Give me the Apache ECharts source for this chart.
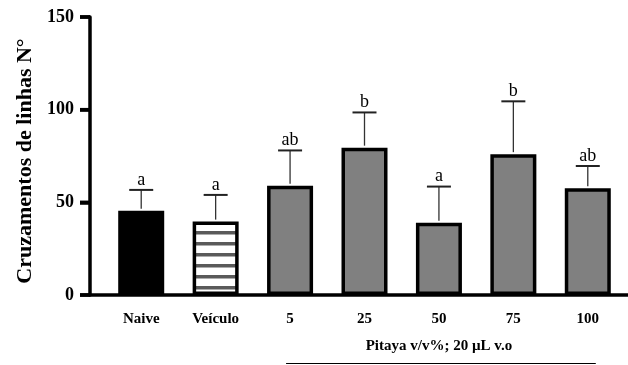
<!DOCTYPE html>
<html>
<head>
<meta charset="utf-8">
<script src="https://cdn.jsdelivr.net/npm/echarts@6/dist/echarts.min.js"></script>
<style>html,body{margin:0;padding:0;background:#fff}#c{width:628px;height:365px}</style>
</head>
<body>
<div id="c"></div>
<script>
var categories = ['Naive', 'Veículo', '5', '25', '50', '75', '100'];
var means = [45.5, 39.6, 59, 79.5, 39, 76, 57.6];
var sds = [11.2, 14.4, 19, 19, 19.5, 28.5, 12];
var letters = ['a', 'a', 'ab', 'b', 'a', 'b', 'ab'];
var yTicks = [0, 50, 100, 150];
var groupLabel = 'Pitaya v/v%; 20 µL v.o';
var yTitle = 'Cruzamentos de linhas N°';

var SERIF = '"Liberation Serif", "Times New Roman", serif';

// striped pattern for Veículo
var pat = document.createElement('canvas');
pat.width = 11; pat.height = 11;
var pctx = pat.getContext('2d');
pctx.fillStyle = '#ffffff'; pctx.fillRect(0, 0, 11, 11);
pctx.fillStyle = '#5a5a5a'; pctx.fillRect(0, 0, 11, 3.5);

var fills = ['#000000', {image: pat, repeat: 'repeat'}, '#808080', '#808080', '#808080', '#808080', '#808080'];

var barData = means.map(function (v, i) {
  return {value: v, itemStyle: {color: fills[i]}};
});
var errData = means.map(function (v, i) { return [i, v, v + sds[i], letters[i]]; });

var chart = echarts.init(document.getElementById('c'));
chart.setOption({
  animation: false,
  grid: {left: 104, right: 3, top: 17, bottom: 70},
  xAxis: {
    type: 'category',
    data: categories,
    axisLine: {show: false},
    axisTick: {show: false},
    axisLabel: {color: '#000', fontFamily: SERIF, fontWeight: 'bold', fontSize: 15, margin: 17}
  },
  yAxis: {
    type: 'value',
    min: 0, max: 150, interval: 50,
    offset: 14,
    name: yTitle,
    nameLocation: 'middle',
    nameGap: 52,
    nameTextStyle: {color: '#000', fontFamily: SERIF, fontWeight: 'bold', fontSize: 22, padding: [0, 10, 0, 0]},
    axisLine: {show: true, lineStyle: {color: '#000', width: 3.5}},
    axisTick: {show: true, inside: false, length: 10, lineStyle: {color: '#000', width: 3.5}},
    splitLine: {show: false},
    axisLabel: {show: true, inside: false, color: '#000', fontFamily: SERIF, fontWeight: 'bold', fontSize: 18, margin: 16,
      formatter: function (v) { return yTicks.indexOf(v) >= 0 ? String(v) : ''; }}
  },
  series: [
    {
      type: 'bar',
      data: barData,
      barWidth: 46,
      itemStyle: {borderColor: '#000', borderWidth: 3.5},
      z: 2
    },
    {
      type: 'custom',
      data: errData,
      z: 3,
      renderItem: function (params, api) {
        var x = api.coord([api.value(0), api.value(1)])[0];
        var yb = api.coord([api.value(0), api.value(1)])[1];
        var yt = api.coord([api.value(0), api.value(2)])[1];
        var lbl = letters[params.dataIndex];
        return {
          type: 'group',
          children: [
            {type: 'line', shape: {x1: x, y1: yb - 2, x2: x, y2: yt}, style: {stroke: '#333', lineWidth: 1.3}},
            {type: 'line', shape: {x1: x - 12, y1: yt, x2: x + 12, y2: yt}, style: {stroke: '#222', lineWidth: 2}},
            {type: 'text', style: {text: lbl, x: x, y: yt - 1, align: 'center', verticalAlign: 'bottom',
              font: 'normal 18px ' + SERIF, fill: '#000'}}
          ]
        };
      }
    }
  ]
});

// baseline (x axis line) extending to y axis, ticks for y axis, and group annotation
var y0 = chart.convertToPixel({yAxisIndex: 0}, 0);
var x5 = chart.convertToPixel({xAxisIndex: 0}, '5');
var x100 = chart.convertToPixel({xAxisIndex: 0}, '100');
var gr = [
  {type: 'line', shape: {x1: 90, y1: y0, x2: 628, y2: y0}, style: {stroke: '#000', lineWidth: 3.5}, z: 10},
  {type: 'text', x: (x5 + x100) / 2, y: 346, style: {text: groupLabel, align: 'center', verticalAlign: 'middle',
    font: 'bold 15px ' + SERIF, fill: '#000'}},
  {type: 'line', shape: {x1: x5 - 4, y1: 363.5, x2: x100 + 8, y2: 363.5}, style: {stroke: '#000', lineWidth: 1.2}}
];
yTicks.forEach(function (t) {
  var yy = chart.convertToPixel({yAxisIndex: 0}, t);
  gr.push({type: 'line', shape: {x1: 80, y1: yy, x2: 90, y2: yy}, style: {stroke: '#000', lineWidth: 3.5}, z: 10});
});
chart.setOption({graphic: gr});
</script>
</body>
</html>
